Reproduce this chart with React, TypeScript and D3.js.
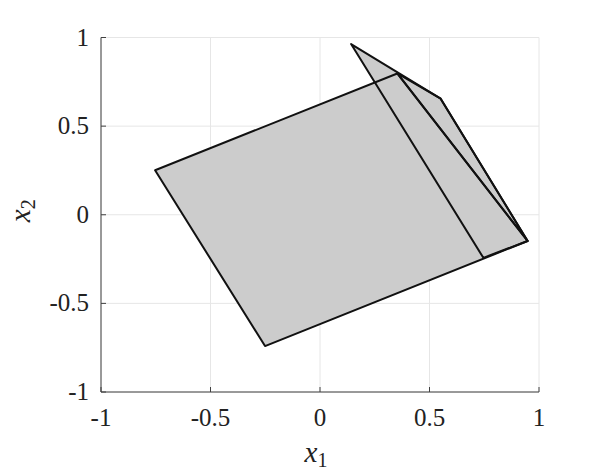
import React, { useEffect, useRef } from 'react';
import * as d3 from 'd3';

// polygon vertices, [x1, x2]
const setMain: [number, number][] = [[-0.753, 0.251], [0.353, 0.797], [0.948, -0.148], [-0.251, -0.741]];
const setUpper: [number, number][] = [[0.142, 0.963], [0.551, 0.655], [0.948, -0.148], [0.746, -0.243]];
const setWedge: [number, number][] = [[0.353, 0.797], [0.551, 0.655], [0.948, -0.148]];
const polygons = [setMain, setUpper, setWedge];

const tickValues = [-1, -0.5, 0, 0.5, 1];
const tickLabels = ['-1', '-0.5', '0', '0.5', '1'];

export default function App() {
    const ref = useRef<SVGSVGElement>(null);

    useEffect(() => {
        const width = 598;
        const height = 475;
        const left = 101, right = 539, top = 37.5, bottom = 392;
        const font = '"Liberation Serif", "DejaVu Serif", serif';

        const svg = d3.select(ref.current);
        svg.selectAll('*').remove();
        svg.attr('width', width).attr('height', height);

        const x = d3.scaleLinear().domain([-1, 1]).range([left, right]);
        const y = d3.scaleLinear().domain([-1, 1]).range([bottom, top]);

        // grid
        const grid = svg.append('g').attr('stroke', '#e6e6e6').attr('stroke-width', 1);
        tickValues.forEach(t => {
            grid.append('line').attr('x1', x(t)).attr('x2', x(t)).attr('y1', top).attr('y2', bottom);
            grid.append('line').attr('x1', left).attr('x2', right).attr('y1', y(t)).attr('y2', y(t));
        });

        // sets: fills first, then all the outlines on top
        const line = d3.line<[number, number]>().x(d => x(d[0])).y(d => y(d[1]));
        svg.append('g').selectAll('path.fill')
            .data(polygons)
            .enter()
            .append('path')
            .attr('d', d => line(d) + 'Z')
            .attr('fill', '#cccccc')
            .attr('stroke', 'none');
        svg.append('g').selectAll('path.edge')
            .data(polygons)
            .enter()
            .append('path')
            .attr('d', d => line(d) + 'Z')
            .attr('fill', 'none')
            .attr('stroke', '#111')
            .attr('stroke-width', 2)
            .attr('stroke-linejoin', 'round');

        // axes
        const axisColor = '#404040';
        svg.append('line').attr('x1', left).attr('x2', left).attr('y1', top).attr('y2', bottom)
            .attr('stroke', axisColor);
        svg.append('line').attr('x1', left).attr('x2', right).attr('y1', bottom).attr('y2', bottom)
            .attr('stroke', axisColor);

        tickValues.forEach((t, i) => {
            svg.append('line').attr('x1', x(t)).attr('x2', x(t)).attr('y1', bottom).attr('y2', bottom - 5)
                .attr('stroke', axisColor);
            svg.append('line').attr('x1', left).attr('x2', left + 5).attr('y1', y(t)).attr('y2', y(t))
                .attr('stroke', axisColor);
            svg.append('text')
                .attr('x', x(t)).attr('y', bottom + 34)
                .attr('text-anchor', 'middle')
                .style('font-family', font).style('font-size', '25px').attr('fill', '#222')
                .text(tickLabels[i]);
            svg.append('text')
                .attr('x', left - 12).attr('y', y(t) + 8)
                .attr('text-anchor', 'end')
                .style('font-family', font).style('font-size', '25px').attr('fill', '#222')
                .text(tickLabels[i]);
        });

        // axis titles
        const xt = svg.append('text')
            .attr('x', (left + right) / 2 - 4).attr('y', bottom + 70)
            .attr('text-anchor', 'middle')
            .style('font-family', font).style('font-size', '29px').attr('fill', '#222');
        xt.append('tspan').style('font-style', 'italic').text('x');
        xt.append('tspan').attr('dy', 5).style('font-size', '20px').text('1');

        const yt = svg.append('text')
            .attr('transform', `translate(30, ${y(0) - 4}) rotate(-90)`)
            .attr('text-anchor', 'middle')
            .style('font-family', font).style('font-size', '29px').attr('fill', '#222');
        yt.append('tspan').style('font-style', 'italic').text('x');
        yt.append('tspan').attr('dy', 5).style('font-size', '20px').text('2');
    }, []);

    return (
        <div style={{ position: 'absolute', left: 0, top: 0 }}>
            <svg ref={ref}></svg>
        </div>
    );
}
